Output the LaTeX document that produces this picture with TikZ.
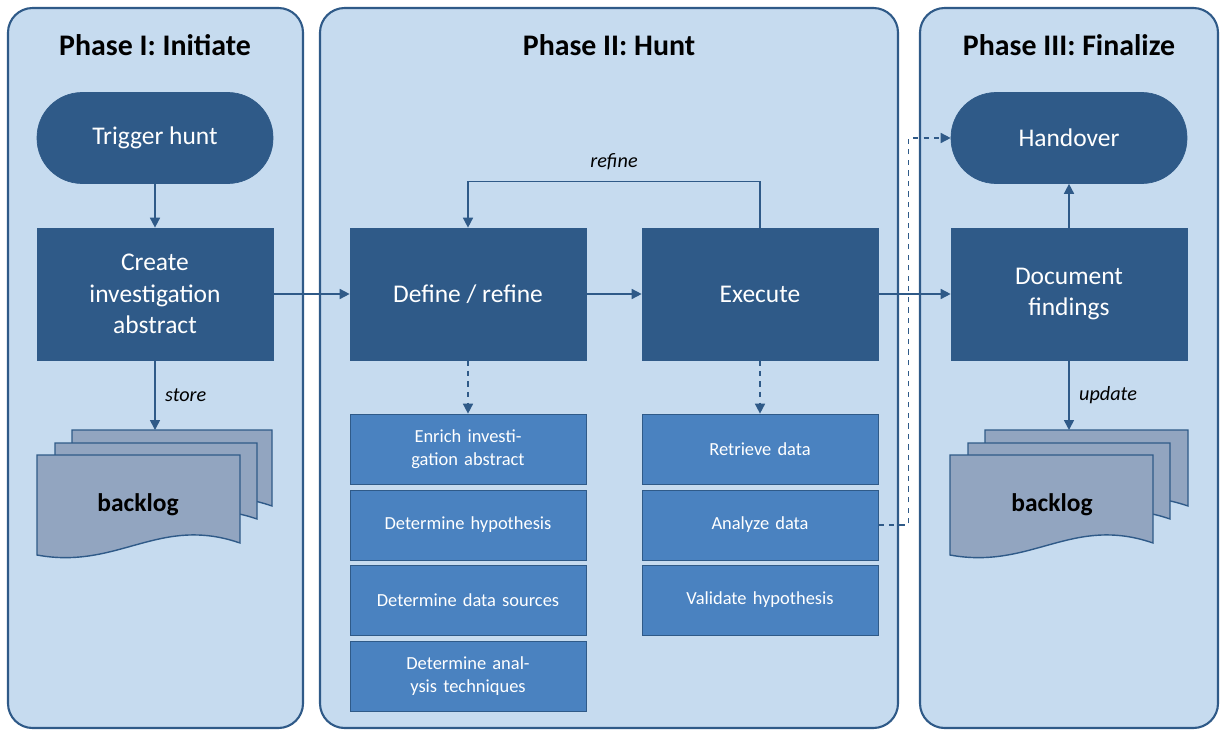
\documentclass[tikz,border=0pt]{standalone}
\usepackage{fontspec}
\setmainfont{Carlito}
\usetikzlibrary{arrows.meta}
\definecolor{panelfill}{HTML}{C6DBEF}
\definecolor{darkblue}{HTML}{2F5A88}
\definecolor{midblue}{HTML}{4A82C0}
\definecolor{docfill}{HTML}{92A5C0}
\newcommand{\docpage}[4]{%
  \draw[docline] (#1,#2) -- ({#1+#3},#2) -- ({#1+#3},{#2+#4-12})
    .. controls ({#1+0.6*#3},{#2+#4-40}) and ({#1+0.4*#3},{#2+#4+15}) .. (#1,{#2+#4}) -- cycle;}
\begin{document}
\begin{tikzpicture}[x=0.02cm,y=-0.02cm,
    panel/.style={draw=darkblue, line width=1.2pt, fill=panelfill, rounded corners=14pt},
    title/.style={font=\fontsize{17}{20}\selectfont\bfseries, text=black},
    stage/.style={draw=darkblue, fill=darkblue, text=white, align=center,
      font=\fontsize{14.5}{18}\selectfont, minimum width=4.72cm, minimum height=2.64cm},
    pill/.style={stage, rounded corners=0.9cm, minimum height=1.82cm},
    task/.style={draw=darkblue, fill=midblue, text=white, align=center,
      font=\fontsize{10.5}{13}\selectfont, minimum width=4.72cm, minimum height=1.4cm, text width=4.2cm},
    docline/.style={draw=darkblue, fill=docfill, line width=0.8pt},
    flow/.style={draw=darkblue, line width=0.9pt, -{Triangle[length=2mm,width=2mm]}},
    dflow/.style={flow, dashed},
    lbl/.style={font=\fontsize{11.5}{14}\selectfont\itshape}]
\useasboundingbox (0,0) rectangle (1227,737);
% panels
\draw[panel] (8,8) rectangle (303,728);
\draw[panel] (320,8) rectangle (898,728);
\draw[panel] (920,8) rectangle (1218,728);
\node[title] at (155,45) {Phase I: Initiate};
\node[title] at (609,45) {Phase II: Hunt};
\node[title] at (1069,45) {Phase III: Finalize};
% phase I
\node[pill] (trigger) at (155,138) {Trigger hunt};
\node[stage] (create) at (155,294) {Create\\investigation\\abstract};
\docpage{72}{430}{200}{88}
\docpage{55}{443}{202}{88}
\docpage{37}{455}{203}{100}
\node[font=\fontsize{14.5}{18}\selectfont\bfseries] (backlogA) at (138,505) {backlog};
\coordinate (backlogAtop) at (155,430);
% phase II
\node[stage] (define) at (468,294) {Define / refine};
\node[stage] (execute) at (760,294) {Execute};
\node[task] (enrich) at (468,449) {Enrich investigation abstract};
\node[task] (hypo) at (468,525) {Determine hypothesis};
\node[task] (sources) at (468,600) {Determine data sources};
\node[task] (techn) at (468,676) {Determine analysis techniques};
\node[task] (retrieve) at (760,449) {Retrieve data};
\node[task] (analyze) at (760,525) {Analyze data};
\node[task] (validate) at (760,600) {Validate hypothesis};
% phase III
\node[pill] (handover) at (1069,138) {Handover};
\node[stage] (document) at (1069,294) {Document\\findings};
\docpage{985}{430}{203}{88}
\docpage{968}{443}{202}{88}
\docpage{950}{455}{203}{100}
\node[font=\fontsize{14.5}{18}\selectfont\bfseries] (backlogB) at (1052,505) {backlog};
\coordinate (backlogBtop) at (1069,430);
% connectors
\draw[flow] (trigger) -- (create);
\draw[flow] (create) -- (backlogAtop) node[lbl, midway, right=2pt] {store};
\draw[flow] (create) -- (define);
\draw[flow] (define) -- (execute);
\draw[flow] (execute) -- (document);
\draw[flow] (execute.north) -- ++(0,-46) -| (define.north)
  node[lbl, pos=0.25, above=3pt] {refine};
\draw[dflow] (define) -- (enrich);
\draw[dflow] (execute) -- (retrieve);
\draw[dflow] (analyze.east) -- ++(30,0) |- (handover.west);
\draw[flow] (document) -- (handover);
\draw[flow] (document) -- (backlogBtop) node[lbl, midway, right=2pt] {update};
\end{tikzpicture}
\end{document}
